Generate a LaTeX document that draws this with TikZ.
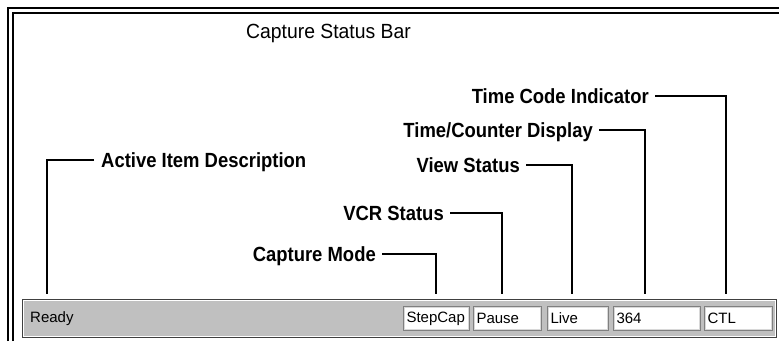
\documentclass[tikz,border=0pt]{standalone}
\usepackage{fontspec}
\setmainfont{Liberation Sans}
\newfontfamily\lblfont[FakeStretch=0.9]{Liberation Sans}
\newfontfamily\ttlfont[FakeStretch=0.945]{Liberation Sans}
\definecolor{barfill}{HTML}{C0C0C0}
\definecolor{bardark}{HTML}{404040}
\definecolor{fieldgray}{HTML}{808080}
\definecolor{fieldlight}{HTML}{D8D8D8}
\begin{document}
\begin{tikzpicture}[x=1pt,y=-1pt,
  lbl/.style={font=\lblfont\fontsize{20.5}{22}\selectfont\bfseries, inner sep=0pt},
  conn/.style={line width=2pt},
  frameline/.style={line width=1.8pt},
  fieldbox/.style={draw=fieldgray, line width=1pt, fill=white, anchor=north west,
    inner xsep=3pt, inner ysep=0pt, align=left, font=\fontsize{15}{16}\selectfont,
    minimum height=24pt},
  bartext/.style={font=\fontsize{15}{16}\selectfont, inner sep=0pt}
]
\useasboundingbox (0,0) rectangle (779,341);
% page frame
\draw[frameline] (8,341) -- (8,8) -- (779,8);
\draw[frameline] (13,341) -- (13,13) -- (779,13);
% title
\node[font=\ttlfont\fontsize{20.5}{22}\selectfont, inner sep=0pt] (title) at (328.5,33) {Capture Status Bar};
% status bar
\node[draw=bardark, line width=1.2pt, fill=barfill, anchor=north west, minimum width=754pt,
  minimum height=38pt, inner sep=0pt] (bar) at (22,299) {};
\draw[white, line width=0.8pt] ([shift={(1.6,1.6)}]bar.north west) rectangle ([shift={(-1.6,-1.6)}]bar.south east);
\node[bartext, anchor=west] (ready) at (30,319) {Ready};
\node[fieldbox, text width=60pt] (fstep) at (403,306) {StepCap};
\node[fieldbox, text width=62pt] (fpause) at (473,306) {Pause};
\node[fieldbox, text width=55pt] (flive) at (547,306) {Live};
\node[fieldbox, text width=81pt] (fcount) at (613,306) {364};
\node[fieldbox, text width=62pt] (fctl) at (704,306) {CTL};
\foreach \f in {fstep,fpause,flive,fcount,fctl}{
  \draw[fieldlight, line width=0.8pt] ([shift={(1.3,1.3)}]\f.north west) rectangle ([shift={(-1.3,-1.3)}]\f.south east);
}
% labels
\node[lbl, anchor=base west] (act) at (101,167.3) {Active Item Description};
\node[lbl, anchor=base east] (capm) at (376,261.3) {Capture Mode};
\node[lbl, anchor=base east] (vcr) at (444,220.3) {VCR Status};
\node[lbl, anchor=base east] (view) at (520,172.3) {View Status};
\node[lbl, anchor=base east] (tcd) at (593,137.3) {Time/Counter Display};
\node[lbl, anchor=base east] (tci) at (649,103.3) {Time Code Indicator};
% connector ends
\coordinate (eAct) at (47,294);
\coordinate (eCap) at (436,294);
\coordinate (eVcr) at (502,294);
\coordinate (eView) at (572,294);
\coordinate (eTcd) at (645,294);
\coordinate (eTci) at (726,294);
% connectors
\draw[conn] ([shift={(-7,-7.3)}]act.base west) -| (eAct);
\draw[conn] ([shift={(6,-7.3)}]capm.base east) -| (eCap);
\draw[conn] ([shift={(6,-7.3)}]vcr.base east) -| (eVcr);
\draw[conn] ([shift={(6,-7.3)}]view.base east) -| (eView);
\draw[conn] ([shift={(6,-7.3)}]tcd.base east) -| (eTcd);
\draw[conn] ([shift={(6,-7.3)}]tci.base east) -| (eTci);
\end{tikzpicture}
\end{document}
